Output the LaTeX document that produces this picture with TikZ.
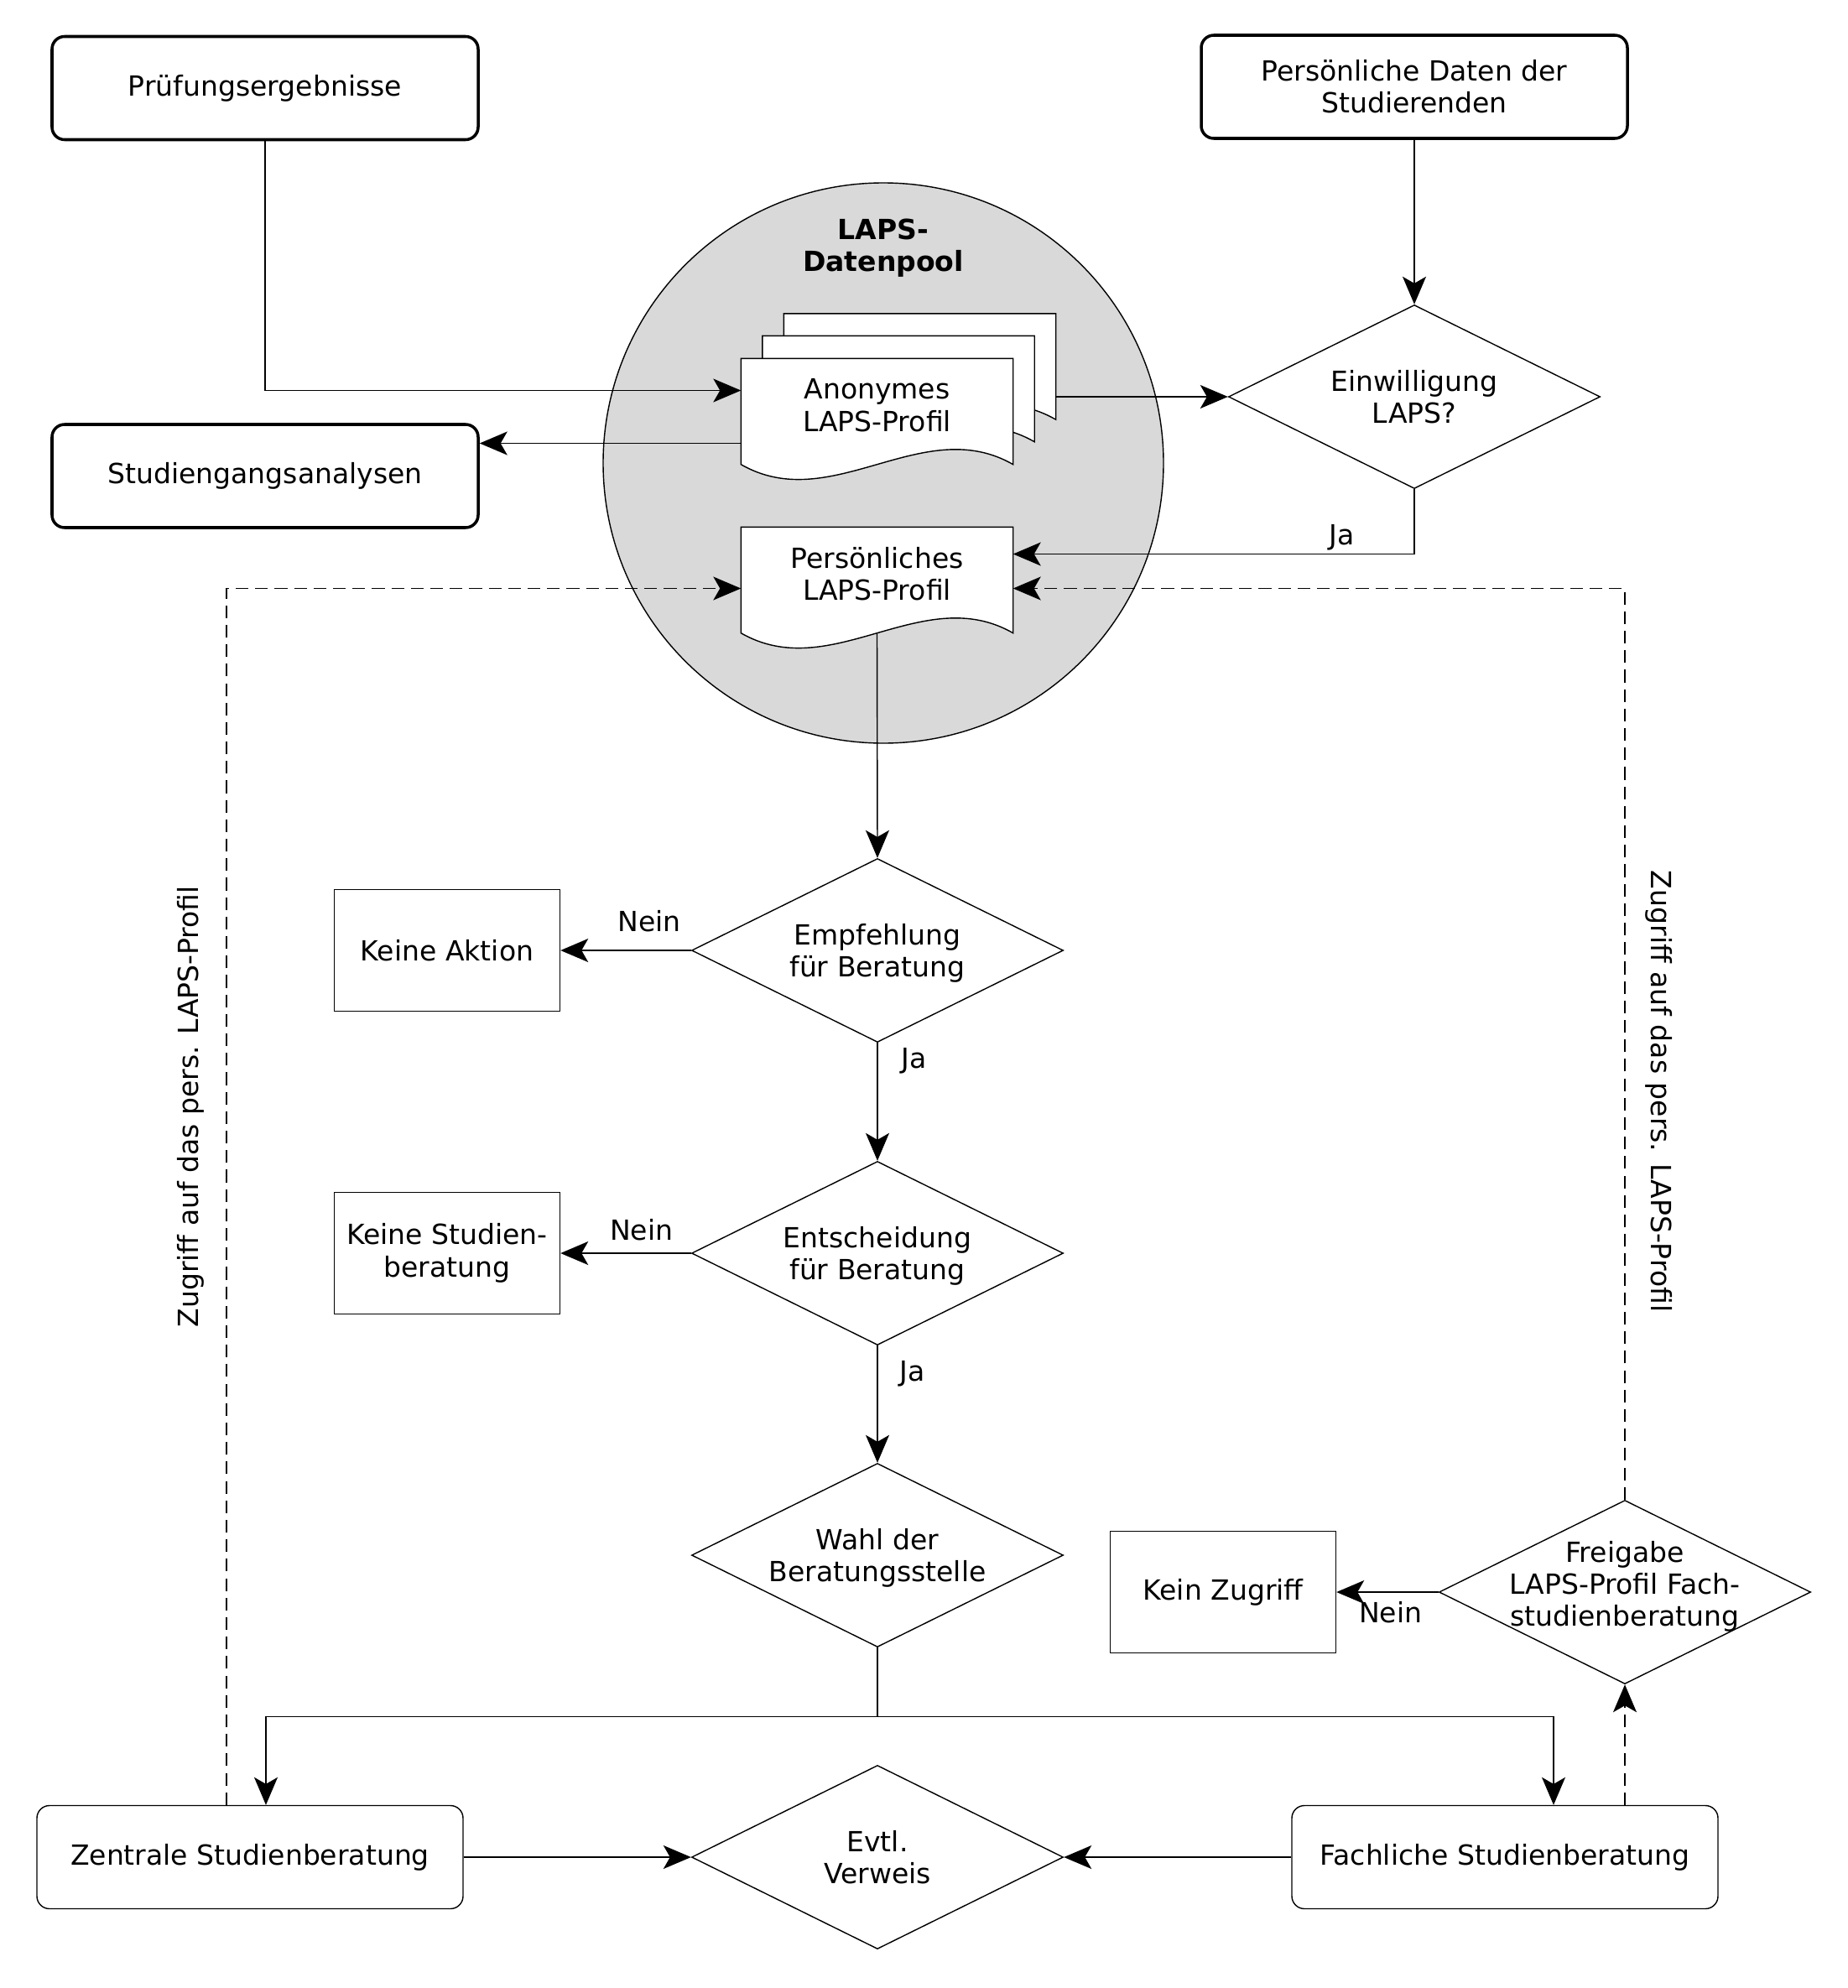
\documentclass[tikz,border=0pt]{standalone}
\usepackage{fontspec}
\setmainfont{DejaVu Sans}
\usetikzlibrary{shapes.geometric, arrows.meta, calc, positioning}
\definecolor{poolGrau}{HTML}{D9D9D9}
\pgfdeclarelayer{hinten}
\pgfdeclarelayer{mitte}
\pgfsetlayers{hinten,mitte,main}

% Dokumentsymbol mit gewelltem Unterrand
\newcommand{\dokument}[1]{%
  \begin{pgfonlayer}{mitte}
    \draw[fill=white] (#1.south west) -- (#1.north west) -- (#1.north east) -- (#1.south east)
      .. controls ($(#1.south east)!1/3!(#1.south west)+(0,0.62)$)
      and ($(#1.south east)!2/3!(#1.south west)-(0,0.62)$) .. (#1.south west) -- cycle;
  \end{pgfonlayer}}

\begin{document}
\begin{tikzpicture}[
  line width=1pt,
  every node/.style={font=\fontsize{9.4pt}{10.9pt}\selectfont},
  % Knotenstile
  kasten/.style={
    rectangle, rounded corners=1.5mm, draw,
    minimum width=5.08cm, minimum height=1.23cm, align=center
  },
  block/.style={
    rectangle, draw,
    minimum width=2.69cm, minimum height=1.45cm, align=center
  },
  raute/.style={
    diamond, draw, aspect=2, inner sep=0pt, text depth=0pt,
    minimum width=4.43cm, minimum height=2.19cm, align=center
  },
  dokument/.style={
    rectangle, inner sep=0pt, align=center, text depth=0.15cm,
    minimum width=3.23cm, minimum height=1.25cm
  },
  pool/.style={
    circle, draw, fill=poolGrau, minimum size=6.68cm
  },
  % Pfeile
  pfeil/.style={
    -{Stealth[length=3.3mm, width=2.8mm, inset=0.8mm]}
  },
  gestrichelt/.style={dash pattern=on 4.3pt off 2.3pt},
  etikett/.style={inner sep=2pt}
]
\useasboundingbox (0,0) rectangle (22.03,-23.70);

% --- Quellen ---
\node[kasten] (pruefung) at (3.16,-1.05) {Prüfungsergebnisse};
\node[kasten] (daten)    at (16.86,-1.035) {Persönliche Daten der\\Studierenden};
\node[kasten] (analysen) at (3.16,-5.675) {Studiengangsanalysen};

% --- LAPS-Datenpool ---
\begin{pgfonlayer}{hinten}
  \node[pool] (pool) at (10.53,-5.52) {};
\end{pgfonlayer}
\node[font=\fontsize{9.4pt}{10.9pt}\selectfont\bfseries, align=center]
  (titel) at (10.53,-2.96) {LAPS-\\Datenpool};

\node[dokument] (anonC) at (10.965,-4.37) {};
\node[dokument] (anonB) at (10.71,-4.635) {};
\node[dokument] (anon)  at (10.455,-4.905) {Anonymes\\LAPS-Profil};
\node[dokument] (pers)  at (10.455,-6.915) {Persönliches\\LAPS-Profil};
\dokument{anonC}
\dokument{anonB}
\dokument{anon}
\dokument{pers}

% --- Entscheidungen ---
\node[raute] (einw)     at (16.86,-4.73) {Einwilligung\\LAPS?};
\node[raute] (empf)     at (10.46,-11.33) {Empfehlung\\für Beratung};
\node[raute] (entsch)   at (10.46,-14.94) {Entscheidung\\für Beratung};
\node[raute] (wahl)     at (10.46,-18.54) {Wahl der\\Beratungsstelle};
\node[raute] (verweis)  at (10.46,-22.14) {Evtl.\\Verweis};
\node[raute, inner sep=-0.2cm, text depth=0.2cm] (freigabe) at (19.37,-18.98)
  {Freigabe\\LAPS-Profil Fach-\\studienberatung};

% --- Ergebnisse ---
\node[block] (aktion)        at (5.33,-11.33) {Keine Aktion};
\node[block] (keineBeratung) at (5.33,-14.94) {Keine Studien-\\beratung};
\node[block] (keinZugriff)   at (14.58,-18.98) {Kein Zugriff};

% --- Beratungsstellen ---
\node[kasten] (zentral) at (2.98,-22.14) {Zentrale Studienberatung};
\node[kasten] (fach)    at (17.94,-22.14) {Fachliche Studienberatung};

% --- Pfeile Datenpool ---
\coordinate (anonAus) at ([yshift=-0.38cm]anon.west);
\draw[pfeil] (pruefung.south) |- ([yshift=0.25cm]anon.west);
\draw[pfeil] (anonAus) -- (anonAus -| analysen.east);
\draw[pfeil] (einw.west -| anonC.east) -- (einw.west);
\draw[pfeil] (daten.south) -- (einw.north);
\draw[pfeil] (einw.south) |- ([yshift=0.31cm]pers.east)
  node[etikett, pos=0.59, above=-1pt] {Ja};

% --- Zugriff (gestrichelt) ---
\draw[pfeil, gestrichelt] ([xshift=-0.28cm]zentral.north) |- ([yshift=-0.1cm]pers.west)
  node[pos=0.287, rotate=90, anchor=south, inner sep=0.26cm] {Zugriff auf das pers. LAPS-Profil};
\draw[pfeil, gestrichelt] (freigabe.north) |- ([yshift=-0.1cm]pers.east)
  node[pos=0.224, rotate=-90, anchor=south, inner sep=0.24cm] {Zugriff auf das pers. LAPS-Profil};
\draw[pfeil, gestrichelt] (fach.north -| freigabe.south) -- (freigabe.south);

% --- Ablauf ---
\draw[pfeil] (pers.south) -- (empf.north);
\draw[pfeil] (empf.west) -- (aktion.east)
  node[etikett, pos=0.32, above=4pt] {Nein};
\draw[pfeil] (empf.south) -- (entsch.north)
  node[etikett, pos=0.15, right=0.21cm] {Ja};
\draw[pfeil] (entsch.west) -- (keineBeratung.east)
  node[etikett, pos=0.38, above=2pt] {Nein};
\draw[pfeil] (entsch.south) -- (wahl.north)
  node[etikett, pos=0.24, right=0.19cm] {Ja};
\draw (wahl.south) -- ++(0,-0.82) coordinate (verzweigung);
\draw[pfeil] (verzweigung) -| ([xshift=0.19cm]zentral.north);
\draw[pfeil] (verzweigung) -| ([xshift=0.58cm]fach.north);
\draw[pfeil] (zentral.east) -- (verweis.west);
\draw[pfeil] (fach.west) -- (verweis.east);
\draw[pfeil] (freigabe.west) -- (keinZugriff.east)
  node[etikett, pos=0.47, below=1pt] {Nein};

\end{tikzpicture}
\end{document}
